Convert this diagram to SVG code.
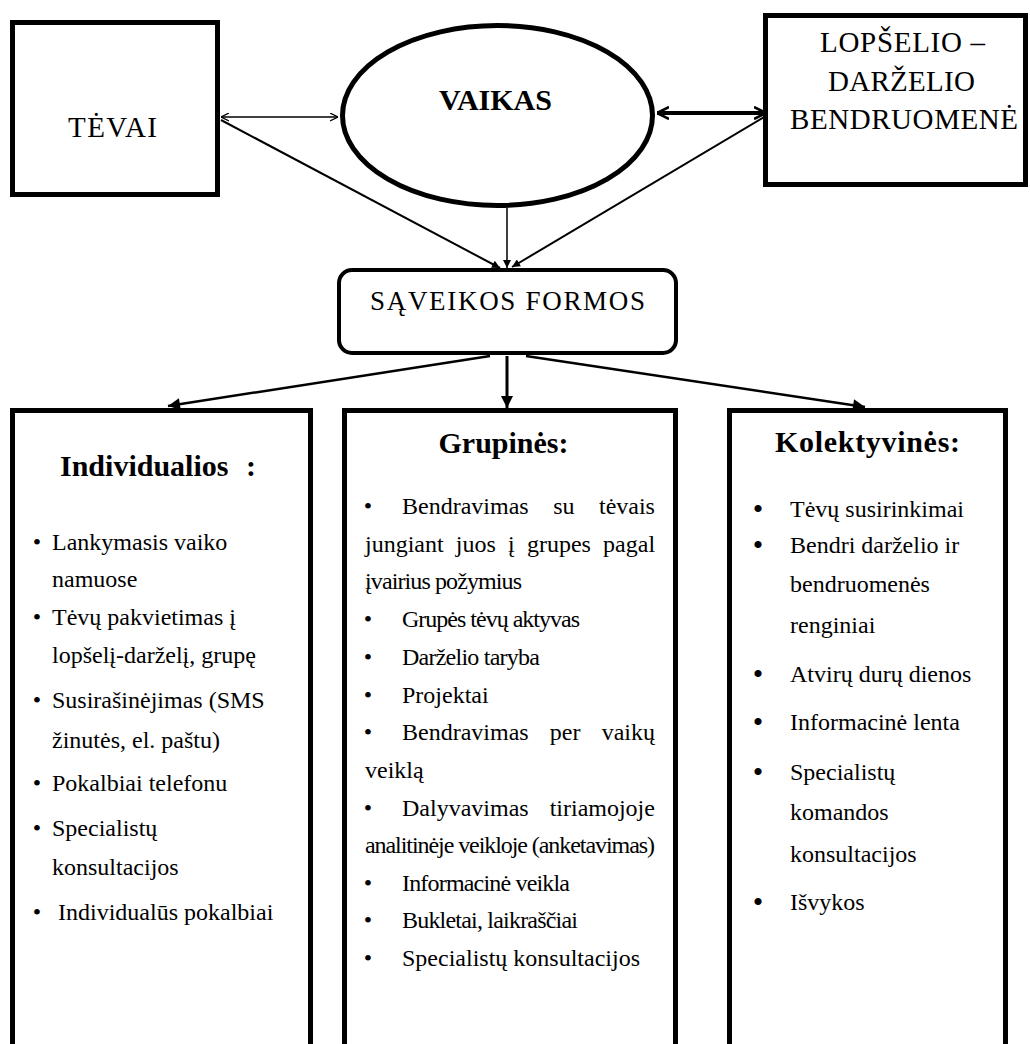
<svg xmlns="http://www.w3.org/2000/svg" width="1030" height="1044" viewBox="0 0 1030 1044">
<style>
  .box { fill: #fff; stroke: #000; stroke-width: 5; }
  .t { font-family: "Liberation Serif", "Times New Roman", serif; fill: #000; }
  .big { font-size: 29px; }
  .ttl { font-size: 30px; font-weight: bold; }
  .it { font-size: 24px; }
  .mid { text-anchor: middle; }
  .bul { font-size: 24px; text-anchor: middle; }
  .bulR { font-size: 30px; text-anchor: middle; }
  .ln { stroke: #000; fill: none; }
</style>
<defs>
  <marker id="openS" viewBox="0 0 10 10" refX="10" refY="5" markerUnits="userSpaceOnUse" markerWidth="8" markerHeight="9" orient="auto-start-reverse">
    <path d="M0,0 L10,5 L0,10" fill="none" stroke="#000" stroke-width="1.6"/>
  </marker>
  <marker id="openB" viewBox="0 0 10 10" refX="10" refY="5" markerUnits="userSpaceOnUse" markerWidth="12" markerHeight="14" orient="auto-start-reverse">
    <path d="M0,0 L10,5 L0,10" fill="none" stroke="#000" stroke-width="2.2"/>
  </marker>
  <marker id="fillS" viewBox="0 0 10 10" refX="10" refY="5" markerUnits="userSpaceOnUse" markerWidth="10" markerHeight="8" orient="auto">
    <path d="M0,0 L10,5 L0,10 Z" fill="#000"/>
  </marker>
  <marker id="fillB" viewBox="0 0 10 10" refX="10" refY="5" markerUnits="userSpaceOnUse" markerWidth="15" markerHeight="12" orient="auto">
    <path d="M0,0 L10,5 L0,10 Z" fill="#000"/>
  </marker>
</defs>
<rect width="1030" height="1044" fill="#fff"/>

<g id="connectors">
  <line class="ln" x1="221" y1="117" x2="338" y2="117" stroke-width="1.5" marker-start="url(#openS)" marker-end="url(#openS)"/>
  <line class="ln" x1="657" y1="113" x2="766" y2="113" stroke-width="4" marker-start="url(#openB)" marker-end="url(#openB)"/>
  <line class="ln" x1="221" y1="120" x2="500" y2="268" stroke-width="2" marker-end="url(#fillS)"/>
  <line class="ln" x1="507" y1="208" x2="507" y2="268" stroke-width="1.5" marker-end="url(#fillS)"/>
  <line class="ln" x1="766" y1="116" x2="512" y2="267" stroke-width="2" marker-end="url(#fillS)"/>
  <line class="ln" x1="490" y1="356" x2="168" y2="406" stroke-width="2.5" marker-end="url(#fillB)"/>
  <line class="ln" x1="507" y1="356" x2="507" y2="408" stroke-width="3" marker-end="url(#fillB)"/>
  <line class="ln" x1="526" y1="356" x2="865" y2="407" stroke-width="2.5" marker-end="url(#fillB)"/>
</g>

<g id="tevai">
  <rect class="box" x="12.5" y="22.5" width="205" height="172"/>
  <text class="t big" x="112.5" y="137" text-anchor="middle" textLength="89">TĖVAI</text>
</g>

<g id="vaikas">
  <ellipse class="box" cx="497.5" cy="115.5" rx="155" ry="90"/>
  <text class="t ttl mid" x="495.5" y="110">VAIKAS</text>
</g>

<g id="bendruomene">
  <rect class="box" x="765.5" y="15.5" width="260" height="169"/>
  <text class="t big" x="820" y="52" textLength="165">LOPŠELIO –</text>
  <text class="t big" x="828" y="91" textLength="147">DARŽELIO</text>
  <text class="t big" x="790" y="129" textLength="228">BENDRUOMENĖ</text>
</g>

<g id="saveikos">
  <rect x="339" y="270" width="337" height="83" rx="13" fill="#fff" stroke="#000" stroke-width="4"/>
  <text class="t" font-size="27" x="370" y="310" textLength="275">SĄVEIKOS FORMOS</text>
</g>

<g id="individualios">
  <rect class="box" x="12.5" y="410.5" width="298" height="650"/>
  <text class="t ttl" x="60" y="476">Individualios<tspan x="246">:</tspan></text>
  <text class="t bul" x="37" y="550">•</text>
  <text class="t it" x="52" y="550">Lankymasis vaiko</text>
  <text class="t it" x="52" y="587">namuose</text>
  <text class="t bul" x="37" y="625">•</text>
  <text class="t it" x="52" y="625">Tėvų pakvietimas į</text>
  <text class="t it" x="52" y="663">lopšelį-darželį, grupę</text>
  <text class="t bul" x="37" y="708">•</text>
  <text class="t it" x="52" y="708">Susirašinėjimas (SMS</text>
  <text class="t it" x="52" y="748">žinutės, el. paštu)</text>
  <text class="t bul" x="37" y="791">•</text>
  <text class="t it" x="52" y="791">Pokalbiai telefonu</text>
  <text class="t bul" x="37" y="836">•</text>
  <text class="t it" x="52" y="836">Specialistų</text>
  <text class="t it" x="52" y="875">konsultacijos</text>
  <text class="t bul" x="37" y="920">•</text>
  <text class="t it" x="58" y="920">Individualūs pokalbiai</text>
</g>

<g id="grupines">
  <rect class="box" x="344.5" y="410.5" width="331" height="650"/>
  <text class="t ttl mid" x="503.5" y="453">Grupinės:</text>
  <text class="t bul" x="368" y="514">•</text>
  <text class="t it" x="402" y="514" word-spacing="18.5">Bendravimas su tėvais</text>
  <text class="t it" x="365" y="552" word-spacing="6.2">jungiant juos į grupes pagal</text>
  <text class="t it" x="365" y="589" textLength="157">įvairius požymius</text>
  <text class="t bul" x="368" y="627">•</text>
  <text class="t it" x="402" y="627" textLength="178">Grupės tėvų aktyvas</text>
  <text class="t bul" x="368" y="665">•</text>
  <text class="t it" x="402" y="665" textLength="138">Darželio taryba</text>
  <text class="t bul" x="368" y="703">•</text>
  <text class="t it" x="402" y="703">Projektai</text>
  <text class="t bul" x="368" y="740">•</text>
  <text class="t it" x="402" y="740" word-spacing="15.2">Bendravimas per vaikų</text>
  <text class="t it" x="365" y="778">veiklą</text>
  <text class="t bul" x="368" y="816">•</text>
  <text class="t it" x="402" y="816" word-spacing="15">Dalyvavimas tiriamojoje</text>
  <text class="t it" x="365" y="853" textLength="290">analitinėje veikloje (anketavimas)</text>
  <text class="t bul" x="368" y="891">•</text>
  <text class="t it" x="402" y="891" textLength="168">Informacinė veikla</text>
  <text class="t bul" x="368" y="928">•</text>
  <text class="t it" x="402" y="928" textLength="176">Bukletai, laikraščiai</text>
  <text class="t bul" x="368" y="966">•</text>
  <text class="t it" x="402" y="966">Specialistų konsultacijos</text>
</g>

<g id="kolektyvines">
  <rect class="box" x="729.5" y="410.5" width="276" height="650"/>
  <text class="t ttl mid" x="867.5" y="452" textLength="185">Kolektyvinės:</text>
  <text class="t bulR" x="758" y="519">•</text>
  <text class="t it" x="790" y="517">Tėvų susirinkimai</text>
  <text class="t bulR" x="758" y="555">•</text>
  <text class="t it" x="790" y="553">Bendri darželio ir</text>
  <text class="t it" x="790" y="592">bendruomenės</text>
  <text class="t it" x="790" y="633">renginiai</text>
  <text class="t bulR" x="758" y="684">•</text>
  <text class="t it" x="790" y="682">Atvirų durų dienos</text>
  <text class="t bulR" x="758" y="732">•</text>
  <text class="t it" x="790" y="730">Informacinė lenta</text>
  <text class="t bulR" x="758" y="782">•</text>
  <text class="t it" x="790" y="780">Specialistų</text>
  <text class="t it" x="790" y="820">komandos</text>
  <text class="t it" x="790" y="862">konsultacijos</text>
  <text class="t bulR" x="758" y="912">•</text>
  <text class="t it" x="790" y="910">Išvykos</text>
</g>
</svg>
